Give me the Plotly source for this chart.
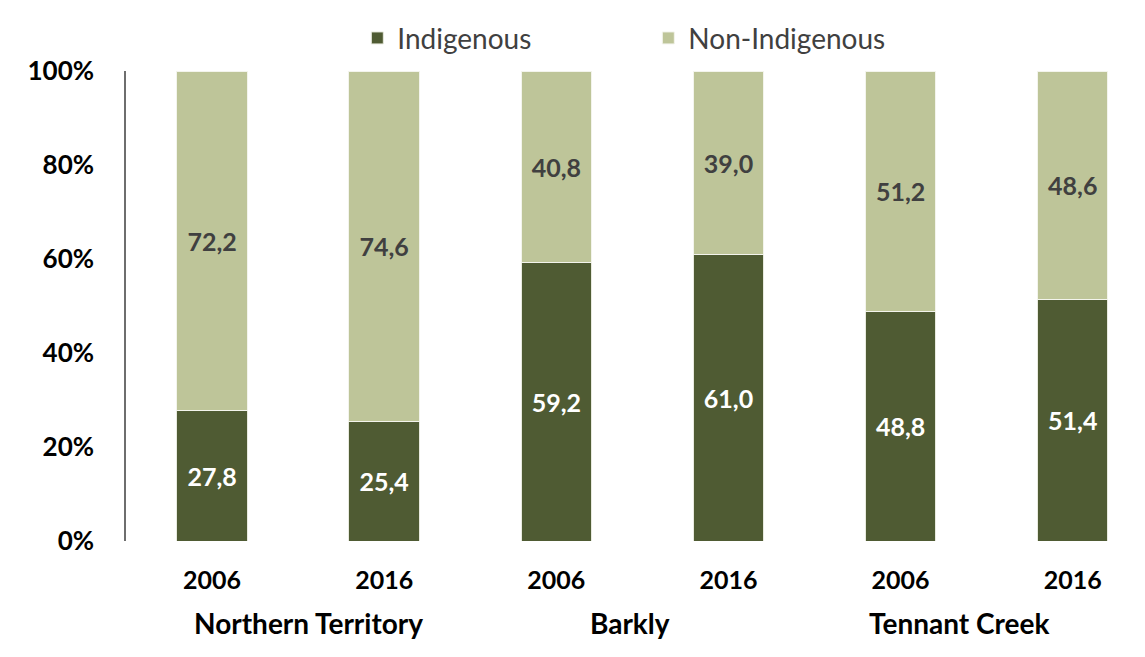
import plotly.graph_objects as go

regions = ["Northern Territory", "Barkly", "Tennant Creek"]
years = ["2006", "2016", "2006", "2016", "2006", "2016"]
indigenous = [27.8, 25.4, 59.2, 61.0, 48.8, 51.4]
non_indigenous = [72.2, 74.6, 40.8, 39.0, 51.2, 48.6]
y_ticks = [0, 20, 40, 60, 80, 100]

DARK = "#4f5b33"
LIGHT = "#bec599"
FONT = "Lato, 'Open Sans', sans-serif"

xpos = list(range(len(years)))


def fmt(v):
    return f"{v:.1f}".replace(".", ",")


fig = go.Figure()
fig.add_trace(go.Bar(
    x=xpos, y=indigenous, name="Indigenous",
    marker=dict(color=DARK, line=dict(color="#e8eadf", width=1)),
    width=0.41,
    text=[fmt(v) for v in indigenous], textposition="inside",
    insidetextanchor="middle", textangle=0,
    textfont=dict(family=FONT, size=25, color="white", weight="bold"),
))
fig.add_trace(go.Bar(
    x=xpos, y=non_indigenous, name="Non-Indigenous",
    marker=dict(color=LIGHT, line=dict(color="#f3f4ec", width=1)),
    width=0.41,
    text=[fmt(v) for v in non_indigenous], textposition="inside",
    insidetextanchor="middle", textangle=0,
    textfont=dict(family=FONT, size=25, color="#404040", weight="bold"),
))

# region names under each pair of years
group_x = [0.56, 2.43, 4.34]
for name, gx in zip(regions, group_x):
    fig.add_annotation(
        x=gx, y=-0.174, xref="x", yref="paper", yanchor="middle",
        text=name, showarrow=False,
        font=dict(family=FONT, size=28, color="black", weight="bold"),
    )

# the page body adds an 8px offset, so margins are trimmed to compensate
fig.update_layout(
    width=1145, height=657,
    barmode="stack",
    plot_bgcolor="white", paper_bgcolor="white",
    margin=dict(l=118, r=8, t=63, b=124),
    showlegend=True,
    legend=dict(
        orientation="h", traceorder="normal",
        x=0.227, xanchor="left", yref="container", y=0.954, yanchor="middle",
        entrywidth=246, entrywidthmode="pixels",
        font=dict(family=FONT, size=28, color="#404040"),
        itemclick=False,
    ),
    xaxis=dict(
        tickvals=xpos, ticktext=years, range=[-0.5, 5.42],
        showline=False, showgrid=False, zeroline=False, ticks="",
        tickfont=dict(family=FONT, size=25, color="black", weight="bold"),
        ticklabelstandoff=22, automargin=False,
    ),
    yaxis=dict(
        range=[0, 100], tickvals=y_ticks,
        ticktext=[f"{t}%" for t in y_ticks],
        showline=True, linecolor="#6e6e6e", linewidth=1.5,
        showgrid=False, zeroline=False, ticks="",
        tickfont=dict(family=FONT, size=26, color="black", weight="bold"),
        ticklabelstandoff=25, automargin=False,
    ),
)

fig.write_html("out.html")
